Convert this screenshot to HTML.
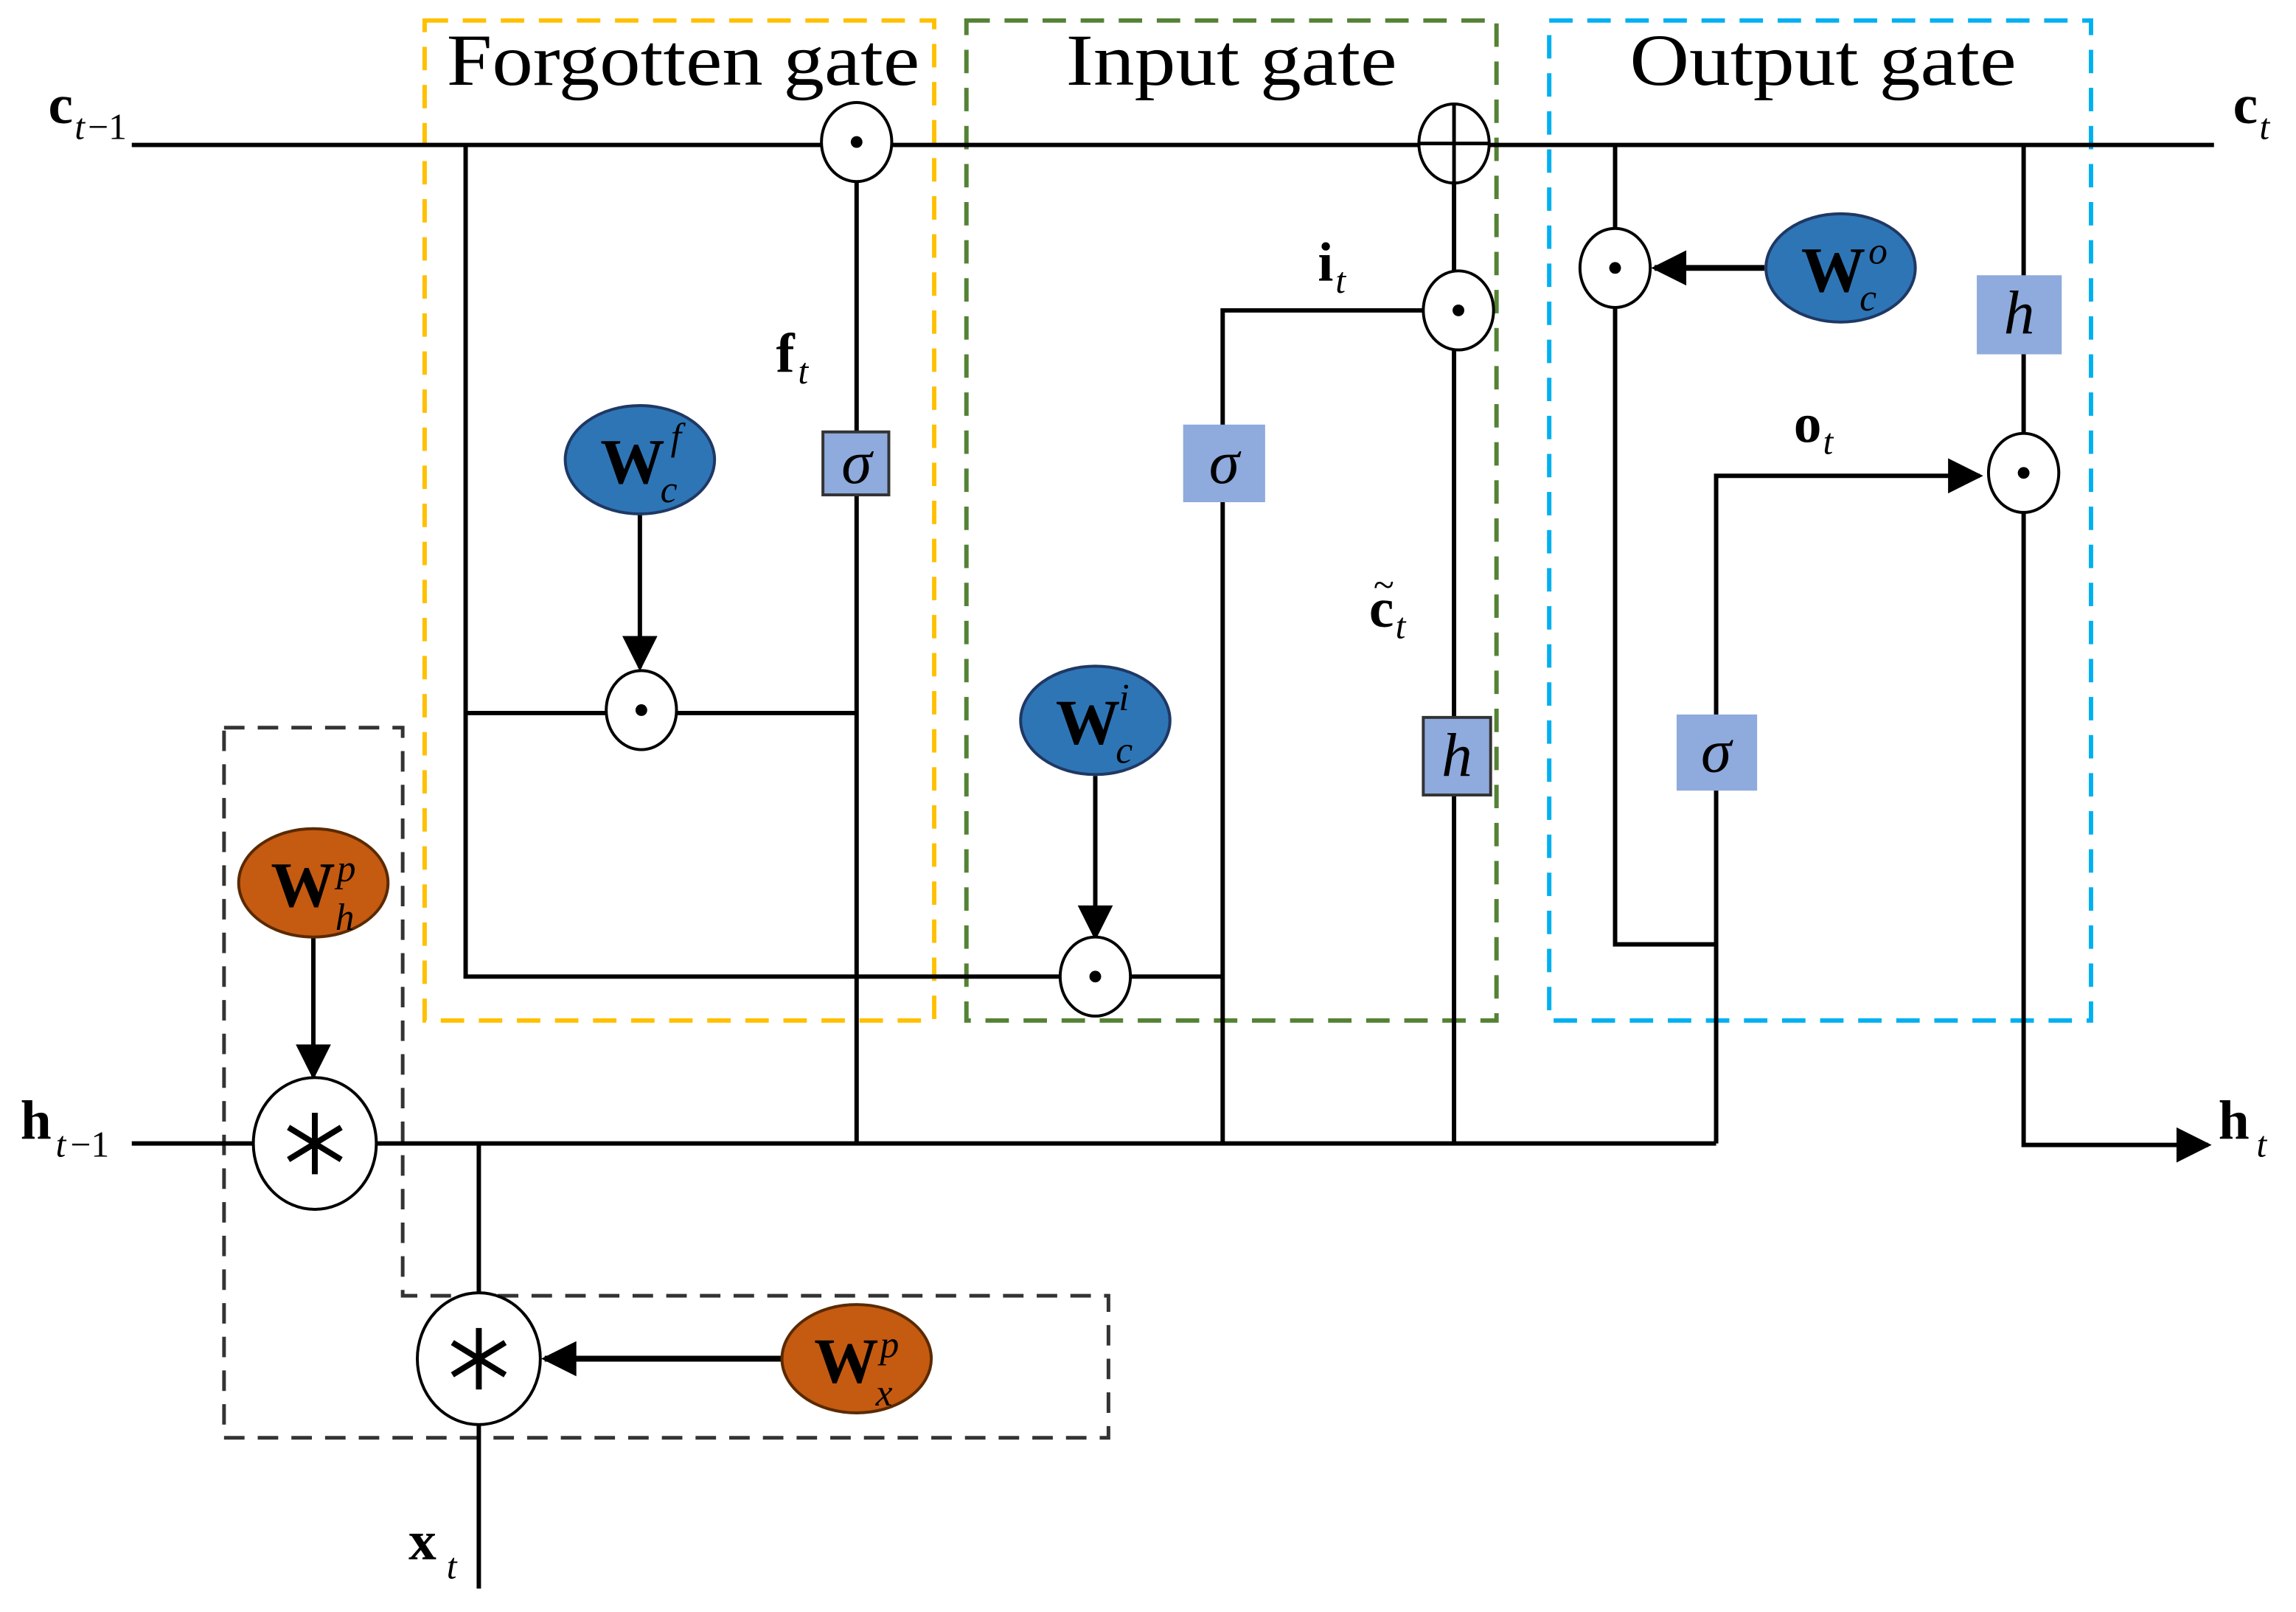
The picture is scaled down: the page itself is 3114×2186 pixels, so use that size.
<!DOCTYPE html>
<html><head><style>html,body{margin:0;padding:0;background:#fff}svg{display:block}</style></head>
<body>
<svg width="3114" height="2186" viewBox="0 0 1568 1101" preserveAspectRatio="none" xmlns="http://www.w3.org/2000/svg" font-family="'Liberation Serif',serif">
<defs>
<marker id="a" viewBox="0 0 10 10" refX="9" refY="5" markerWidth="26" markerHeight="24" markerUnits="userSpaceOnUse" orient="auto"><path d="M0,0L10,5L0,10z"/></marker>
</defs>
<rect width="1568" height="1101" fill="#fff"/>
<rect x="290" y="14" width="348" height="683" fill="none" stroke="#FFC000" stroke-width="3" stroke-dasharray="16,10"/>
<rect x="660" y="14" width="362" height="683" fill="none" stroke="#548235" stroke-width="3" stroke-dasharray="16,10"/>
<rect x="1058" y="14" width="370" height="683" fill="none" stroke="#00B0F0" stroke-width="3" stroke-dasharray="16,10"/>
<path d="M153,497H275V885H757V982H153Z" fill="none" stroke="#333" stroke-width="2.5" stroke-dasharray="14,9"/>
<g font-size="50">
<text x="305" y="58" textLength="323" lengthAdjust="spacingAndGlyphs">Forgotten gate</text>
<text x="728" y="58" textLength="226" lengthAdjust="spacingAndGlyphs">Input gate</text>
<text x="1113" y="58" textLength="264" lengthAdjust="spacingAndGlyphs">Output gate</text>
</g>
<g stroke="#000" stroke-width="3" fill="none">
<path d="M90,99H1512"/>
<path d="M90,781H1172"/>
<path d="M585,120V781"/>
<path d="M318,99V667H835"/>
<path d="M318,487H585"/>
<path d="M835,781V212H972"/>
<path d="M993,99V781"/>
<path d="M1103,99V645H1172"/>
<path d="M1172,781V325H1352" marker-end="url(#a)"/>
<path d="M1382,99V782H1508" marker-end="url(#a)"/>
<path d="M327,781V1085"/>
<path d="M437,351V456" marker-end="url(#a)"/>
<path d="M748,530V640" marker-end="url(#a)"/>
<path d="M214,640V735" marker-end="url(#a)"/>
<path d="M1205,183H1130" marker-end="url(#a)" stroke-width="4"/>
<path d="M535,928H372" marker-end="url(#a)" stroke-width="4"/>
</g>
<rect x="562" y="295" width="45" height="43" fill="#8FAADC" stroke="#333" stroke-width="2"/>
<rect x="808" y="290" width="56" height="53" fill="#8FAADC"/>
<rect x="972" y="490" width="46" height="53" fill="#8FAADC" stroke="#333" stroke-width="2"/>
<rect x="1145" y="488" width="55" height="52" fill="#8FAADC"/>
<rect x="1350" y="188" width="58" height="54" fill="#8FAADC"/>
<g font-size="42" font-style="italic" text-anchor="middle">
<text x="585" y="330">σ</text><text x="836" y="330">σ</text><text x="1172" y="527">σ</text>
<text x="995" y="530">h</text><text x="1379" y="228">h</text>
</g>
<g fill="#fff" stroke="#000" stroke-width="2">
<ellipse cx="585" cy="97" rx="24" ry="27"/>
<ellipse cx="438" cy="485" rx="24" ry="27"/>
<ellipse cx="748" cy="667" rx="24" ry="27"/>
<ellipse cx="996" cy="212" rx="24" ry="27"/>
<ellipse cx="1103" cy="183" rx="24" ry="27"/>
<ellipse cx="1382" cy="323" rx="24" ry="27"/>
<ellipse cx="993" cy="98" rx="24" ry="27"/>
<ellipse cx="215" cy="781" rx="42" ry="45"/>
<ellipse cx="327" cy="928" rx="42" ry="45"/>
</g>
<path d="M969,98H1017M993,71V125" stroke="#000" stroke-width="2.5"/>
<g stroke="#000" stroke-width="4">
<path d="M215,760V802M197,770L233,792M233,770L197,792"/>
<path d="M327,907V949M309,917L345,939M345,917L309,939"/>
</g>
<g fill="#000">
<circle cx="585" cy="97" r="4"/><circle cx="438" cy="485" r="4"/><circle cx="748" cy="667" r="4"/>
<circle cx="996" cy="212" r="4"/><circle cx="1103" cy="183" r="4"/><circle cx="1382" cy="323" r="4"/>
</g>
<g stroke="#1F3864" stroke-width="2">
<ellipse cx="437" cy="314" rx="51" ry="37" fill="#2E75B6"/>
<ellipse cx="748" cy="492" rx="51" ry="37" fill="#2E75B6"/>
<ellipse cx="1257" cy="183" rx="51" ry="37" fill="#2E75B6"/>
<ellipse cx="214" cy="603" rx="51" ry="37" fill="#C55A11" stroke="#5a2a00"/>
<ellipse cx="585" cy="928" rx="51" ry="37" fill="#C55A11" stroke="#5a2a00"/>
</g>
<g font-size="44" font-weight="bold">
<text x="410" y="330">W</text><text x="721" y="508">W</text><text x="1230" y="199">W</text>
<text x="185" y="619">W</text><text x="556" y="944">W</text>
</g>
<g font-size="26" font-style="italic">
<text x="458" y="307">f</text><text x="451" y="343">c</text>
<text x="764" y="485">i</text><text x="762" y="521">c</text>
<text x="1276" y="180">o</text><text x="1270" y="212">c</text>
<text x="230" y="602">p</text><text x="229" y="635">h</text>
<text x="601" y="927">p</text><text x="598" y="960">x</text>
</g>
<g font-size="38" font-weight="bold">
<text x="33" y="84">c</text><text x="1525" y="84">c</text>
<text x="530" y="254">f</text><text x="900" y="192">i</text><text x="935" y="428">c</text>
<text x="1225" y="302">o</text>
<text x="14" y="778">h</text><text x="1515" y="778">h</text>
<text x="279" y="1065">x</text>
</g>
<text x="938" y="408" font-size="26">~</text>
<g font-size="25" font-style="italic">
<text x="51" y="95">t</text><text x="60" y="95" font-style="normal">−1</text>
<text x="1543" y="95">t</text>
<text x="545" y="262">t</text><text x="912" y="200">t</text><text x="953" y="436">t</text>
<text x="1245" y="310">t</text>
<text x="38" y="790">t</text><text x="48" y="790" font-style="normal">−1</text>
<text x="1541" y="790">t</text>
<text x="305" y="1078">t</text>
</g>
</svg>
</body></html>
